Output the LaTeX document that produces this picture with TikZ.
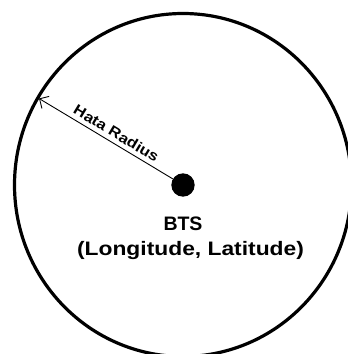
\documentclass[tikz,border=0pt]{standalone}
\usepackage{fontspec}
\setsansfont{Liberation Sans}
\usetikzlibrary{arrows.meta,positioning}

\begin{document}
\begin{tikzpicture}[x=1pt,y=1pt,
  font=\sffamily\bfseries,
  site/.style={circle,fill=black,minimum size=23.4pt,inner sep=0pt},
  cover/.style={draw=black,line width=3.2pt},
  radius arrow/.style={-{Straight Barb[length=7pt,width=14pt]},line width=.9pt},
  caption/.style={font=\sffamily\bfseries\fontsize{19.5}{23}\selectfont,inner sep=0pt,anchor=base}
]
\useasboundingbox (0,0) rectangle (348,354);
\clip (0,0) rectangle (348,354);
\node[site] (bts) at (183,169) {};
\draw[cover] (bts.center) ellipse [x radius=168.5pt, y radius=171.5pt];
\coordinate (rim) at ([shift={(149:168)}]bts.center);
\draw[radius arrow] (bts) -- (rim)
  node[pos=.46,sloped,above=2.3pt,inner sep=2pt,font=\sffamily\bfseries\fontsize{14.5}{17}\selectfont] (hata) {\scalebox{1.15}[1]{Hata Radius}};
\node[caption] (name) at (183,123) {BTS};
\node[caption] (coords) at (190.5,98) {\scalebox{1.17}[1]{(Longitude, Latitude)}};
\end{tikzpicture}
\end{document}
